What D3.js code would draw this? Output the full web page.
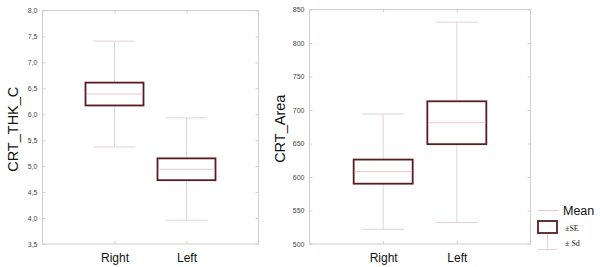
<!DOCTYPE html>
<html><head><meta charset="utf-8">
<script src="https://cdn.jsdelivr.net/npm/d3@7"></script>
<style>body{margin:0;background:#fff}svg{display:block}</style>
</head><body>
<svg id="c" width="600" height="267"></svg>
<script>
const categories = ["Right", "Left"];
// CRT_THK_C panel
const thkMean = [6.39, 4.94];
const thkSeLow = [6.17, 4.73];
const thkSeHigh = [6.61, 5.15];
const thkSdLow = [5.37, 3.96];
const thkSdHigh = [7.41, 5.93];
const thkTicks = [3.5, 4.0, 4.5, 5.0, 5.5, 6.0, 6.5, 7.0, 7.5, 8.0];
// CRT_Area panel
const areaMean = [608, 681];
const areaSeLow = [590, 649];
const areaSeHigh = [626, 713];
const areaSdLow = [522, 532];
const areaSdHigh = [694, 831];
const areaTicks = [500, 550, 600, 650, 700, 750, 800, 850];

const svg = d3.select("#c");
const boxColor = "#5a1c22", whiskColor = "#e3d3d6", meanColor = "#ecc6cb", frameColor = "#cfcfcf";

function panel(o) {
  const g = svg.append("g");
  const x = d3.scalePoint().domain(categories).range([o.x0, o.x1]).padding(1);
  const y = d3.scaleLinear().domain(o.domain).range([o.y1, o.y0]);
  // frame
  g.append("rect").attr("x", o.x0).attr("y", o.y0).attr("width", o.x1 - o.x0).attr("height", o.y1 - o.y0)
    .attr("fill", "none").attr("stroke", frameColor).attr("stroke-width", 1);
  // y axis labels
  const ax = g.append("g").attr("transform", `translate(${o.x0},0)`)
    .call(d3.axisLeft(y).tickValues(o.ticks).tickSize(-3).tickPadding(5).tickFormat(o.fmt));
  ax.select(".domain").remove();
  ax.selectAll("line").attr("stroke", frameColor);
  ax.selectAll("text").attr("font-family", "Liberation Sans, Arial").attr("font-size", 7).attr("fill", "#444");
  const axr = g.append("g").attr("transform", `translate(${o.x1},0)`)
    .call(d3.axisRight(y).tickValues(o.ticks).tickSize(-3).tickFormat(""));
  axr.select(".domain").remove();
  axr.selectAll("line").attr("stroke", frameColor);
  // x axis
  const axb = g.append("g").attr("transform", `translate(0,${o.y1})`)
    .call(d3.axisBottom(x).tickSize(0).tickPadding(9));
  axb.select(".domain").remove();
  axb.selectAll("text").attr("font-family", "Liberation Sans, Arial").attr("font-size", 12).attr("fill", "#111");
  const axt = g.append("g").attr("transform", `translate(0,${o.y0})`)
    .call(d3.axisTop(x).tickSize(-3).tickFormat(""));
  axt.select(".domain").remove();
  axt.selectAll("line").attr("stroke", frameColor);
  axb.selectAll(".tick").append("line").attr("y2", -3).attr("stroke", frameColor);
  // y title
  g.append("text").attr("transform", `translate(${o.titleX},${(o.y0 + o.y1) / 2 + 2}) rotate(-90)`)
    .attr("text-anchor", "middle").attr("font-family", "Liberation Sans, Arial").attr("font-size", 14.5)
    .attr("fill", "#111").text(o.title);
  const bw = o.bw, cw = 21;
  categories.forEach((c, i) => {
    const cx = x(c);
    g.append("line").attr("x1", cx).attr("x2", cx).attr("y1", y(o.sdHigh[i])).attr("y2", y(o.sdLow[i]))
      .attr("stroke", whiskColor).attr("stroke-width", 1);
    [o.sdHigh[i], o.sdLow[i]].forEach(v => {
      g.append("line").attr("x1", cx - cw).attr("x2", cx + cw).attr("y1", y(v)).attr("y2", y(v))
        .attr("stroke", whiskColor).attr("stroke-width", 1);
    });
    g.append("rect").attr("x", cx - bw / 2).attr("y", y(o.seHigh[i])).attr("width", bw)
      .attr("height", y(o.seLow[i]) - y(o.seHigh[i])).attr("fill", "#fff")
      .attr("stroke", boxColor).attr("stroke-width", 1.8);
    g.append("line").attr("x1", cx - bw / 2 + 1).attr("x2", cx + bw / 2 - 1).attr("y1", y(o.mean[i])).attr("y2", y(o.mean[i]))
      .attr("stroke", meanColor).attr("stroke-width", 1);
  });
}

const fmt1 = d => d3.format(".1f")(d).replace(".", ",");
panel({x0: 42.5, x1: 258.5, y0: 10.5, y1: 244, domain: [3.5, 8.0], ticks: thkTicks, fmt: fmt1,
  title: "CRT_THK_C", titleX: 18, bw: 58, mean: thkMean, seLow: thkSeLow, seHigh: thkSeHigh, sdLow: thkSdLow, sdHigh: thkSdHigh});
panel({x0: 309.5, x1: 530.5, y0: 9.5, y1: 244, domain: [500, 850], ticks: areaTicks, fmt: d3.format("d"),
  title: "CRT_Area", titleX: 285, bw: 59, mean: areaMean, seLow: areaSeLow, seHigh: areaSeHigh, sdLow: areaSdLow, sdHigh: areaSdHigh});

// legend
const lg = svg.append("g");
lg.append("line").attr("x1", 538).attr("x2", 558).attr("y1", 210.5).attr("y2", 210.5).attr("stroke", "#efc2c6");
lg.append("text").attr("x", 563).attr("y", 215).attr("font-family", "Liberation Sans, Arial").attr("font-size", 12.5).attr("fill", "#111").text("Mean");
lg.append("line").attr("x1", 547.5).attr("x2", 547.5).attr("y1", 233).attr("y2", 249.5).attr("stroke", whiskColor);
lg.append("line").attr("x1", 538).attr("x2", 557).attr("y1", 249.5).attr("y2", 249.5).attr("stroke", whiskColor);
lg.append("rect").attr("x", 538).attr("y", 221).attr("width", 19).attr("height", 12).attr("fill", "#fff").attr("stroke", boxColor).attr("stroke-width", 1.8);
lg.append("text").attr("x", 565).attr("y", 231).attr("font-family", "Liberation Serif, Times New Roman").attr("font-size", 8).attr("fill", "#222").text("±SE");
lg.append("text").attr("x", 565).attr("y", 246).attr("font-family", "Liberation Serif, Times New Roman").attr("font-size", 8).attr("fill", "#222").text("± Sd");
</script>
</body></html>
